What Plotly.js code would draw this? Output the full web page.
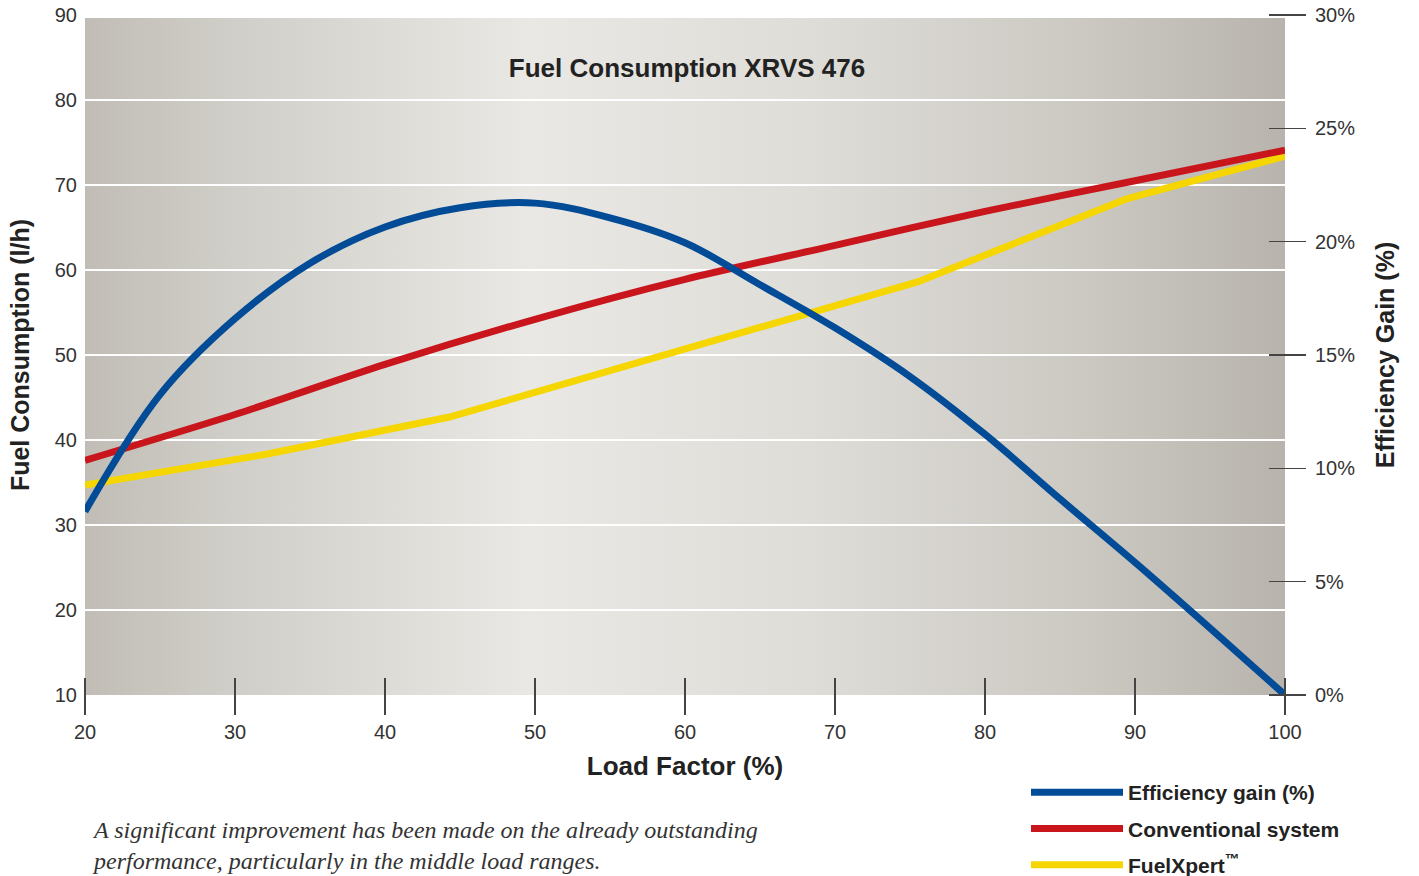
<!DOCTYPE html>
<html>
<head>
<meta charset="utf-8">
<script src="https://cdn.plot.ly/plotly-3.0.1.min.js"></script>
<style>html,body{margin:0;padding:0;background:#fff;}#chart{width:1419px;height:876px;}</style>
</head>
<body>
<div id="chart"></div>
<script>
// Load factor (%) for each series
const effLoad = [20, 25, 30, 35, 40, 45, 50, 55, 60, 65, 70, 75, 80, 85, 90, 95, 100];
// Efficiency gain (%) — right axis
const effGain = [8.1, 13.25, 16.6, 19.05, 20.65, 21.5, 21.7, 21.05, 19.95, 18.1, 16.2, 14.05, 11.5, 8.65, 5.85, 2.95, 0];

const convLoad = [20, 30, 40, 50, 60, 70, 80, 90, 100];
// Conventional system fuel consumption (l/h)
const convFuel = [37.6, 43.0, 48.9, 54.2, 58.9, 62.9, 66.9, 70.5, 74.1];

const fxLoad = [20, 32, 44.3, 75.5, 89.5, 100];
// FuelXpert fuel consumption (l/h)
const fxFuel = [34.7, 38.3, 42.7, 58.6, 68.4, 73.4];

const xTicks = [20, 30, 40, 50, 60, 70, 80, 90, 100];
const yTicks = [10, 20, 30, 40, 50, 60, 70, 80, 90];
const y2Ticks = [0, 5, 10, 15, 20, 25, 30];
const y2TickLabels = ['0%', '5%', '10%', '15%', '20%', '25%', '30%'];

const names = ['Efficiency gain (%)', 'Conventional system', 'FuelXpert<sup>™</sup>'];
const colors = ['#024b96', '#c8161c', '#f5d600'];

const SANS = 'Liberation Sans, Arial, sans-serif';

// drawn yellow, red, then blue on top; legendrank lists blue first
const traces = [
  {x: fxLoad, y: fxFuel, name: names[2], legendgroup: 'c', legendrank: 3, mode: 'lines',
   line: {color: colors[2], width: 7}},
  {x: convLoad, y: convFuel, name: names[1], legendgroup: 'b', legendrank: 2, mode: 'lines',
   line: {color: colors[1], width: 7, shape: 'spline', smoothing: 0.8}},
  {x: effLoad, y: effGain, yaxis: 'y2', name: names[0], legendgroup: 'a', legendrank: 1, mode: 'lines',
   line: {color: colors[0], width: 7, shape: 'spline', smoothing: 1}}
];

const svg = '<svg xmlns="http://www.w3.org/2000/svg" width="1200" height="680" preserveAspectRatio="none">' +
  '<defs><linearGradient id="g" x1="0" y1="0" x2="1" y2="0">' +
  '<stop offset="0" stop-color="#c1bdb6"/>' +
  '<stop offset="0.12" stop-color="#d0cec8"/>' +
  '<stop offset="0.37" stop-color="#e9e8e4"/>' +
  '<stop offset="0.6" stop-color="#dfddd8"/>' +
  '<stop offset="0.82" stop-color="#cdcac4"/>' +
  '<stop offset="1" stop-color="#b8b4ad"/>' +
  '</linearGradient></defs><rect width="1200" height="680" fill="url(#g)"/></svg>';
const bgSrc = 'data:image/svg+xml;charset=utf-8,' + encodeURIComponent(svg);

const layout = {
  width: 1419, height: 876,
  margin: {l: 85, r: 134, t: 15, b: 181, autoexpand: false},
  paper_bgcolor: '#ffffff',
  plot_bgcolor: 'rgba(0,0,0,0)',
  showlegend: true,
  title: {
    text: 'Fuel Consumption XRVS 476',
    font: {family: SANS, size: 26, color: '#222', weight: 'bold'},
    xref: 'paper', x: 0.5017, xanchor: 'center',
    yref: 'container', y: 1 - 68/876, yanchor: 'middle'
  },
  xaxis: {
    range: [20, 100], tickvals: xTicks, ticktext: xTicks.map(String),
    showgrid: false, zeroline: false, showline: false,
    anchor: 'free', position: 18/680,
    ticks: 'outside', ticklen: 37, tickwidth: 1.5, tickcolor: '#444',
    tickfont: {family: SANS, size: 20, color: '#333'},
    title: {text: 'Load Factor (%)', font: {family: SANS, size: 26, color: '#222', weight: 'bold'}, standoff: 14}
  },
  yaxis: {
    range: [10, 90], tickvals: yTicks, ticktext: yTicks.map(String),
    showgrid: true, gridcolor: '#ffffff', gridwidth: 1.5,
    zeroline: false, showline: false, ticks: '',
    ticklabelstandoff: 7,
    tickfont: {family: SANS, size: 20, color: '#333'},
    title: {text: 'Fuel Consumption (l/h)', font: {family: SANS, size: 25, color: '#222', weight: 'bold'}, standoff: 18}
  },
  yaxis2: {
    range: [0, 30], tickvals: y2Ticks, ticktext: y2TickLabels,
    overlaying: 'y', side: 'right', anchor: 'free', position: (1268 - 85)/1200,
    showgrid: false, zeroline: false, showline: false,
    ticks: 'outside', ticklen: 37, tickwidth: 1.5, tickcolor: '#444',
    ticklabelstandoff: 5,
    tickfont: {family: SANS, size: 20, color: '#333'},
    title: {text: 'Efficiency Gain (%)', font: {family: SANS, size: 25, color: '#222', weight: 'bold'}, standoff: 22}
  },
  legend: {
    x: (1026 - 85)/1200, xanchor: 'left', xref: 'paper',
    y: (695 - 772)/680, yanchor: 'top', yref: 'paper',
    bgcolor: 'rgba(0,0,0,0)', borderwidth: 0,
    itemwidth: 92, traceorder: 'grouped', tracegroupgap: 6,
    font: {family: SANS, size: 21, color: '#222', weight: 'bold'}
  },
  images: [{
    source: bgSrc, xref: 'paper', yref: 'paper', x: 0, y: 1 - 3/680,
    sizex: 1, sizey: 1 - 3/680, sizing: 'stretch', layer: 'below', xanchor: 'left', yanchor: 'top'
  }],
  annotations: [{
    text: 'A significant improvement has been made on the already outstanding<br>performance, particularly in the middle load ranges.',
    xref: 'paper', yref: 'paper', x: (90 - 85)/1200, y: (695 - 815)/680,
    xanchor: 'left', yanchor: 'top', align: 'left', showarrow: false,
    font: {family: 'Liberation Serif, Times New Roman, serif', size: 24, color: '#333', style: 'italic'}
  }]
};

Plotly.newPlot('chart', traces, layout, {displayModeBar: false, staticPlot: true});
</script>
</body>
</html>
